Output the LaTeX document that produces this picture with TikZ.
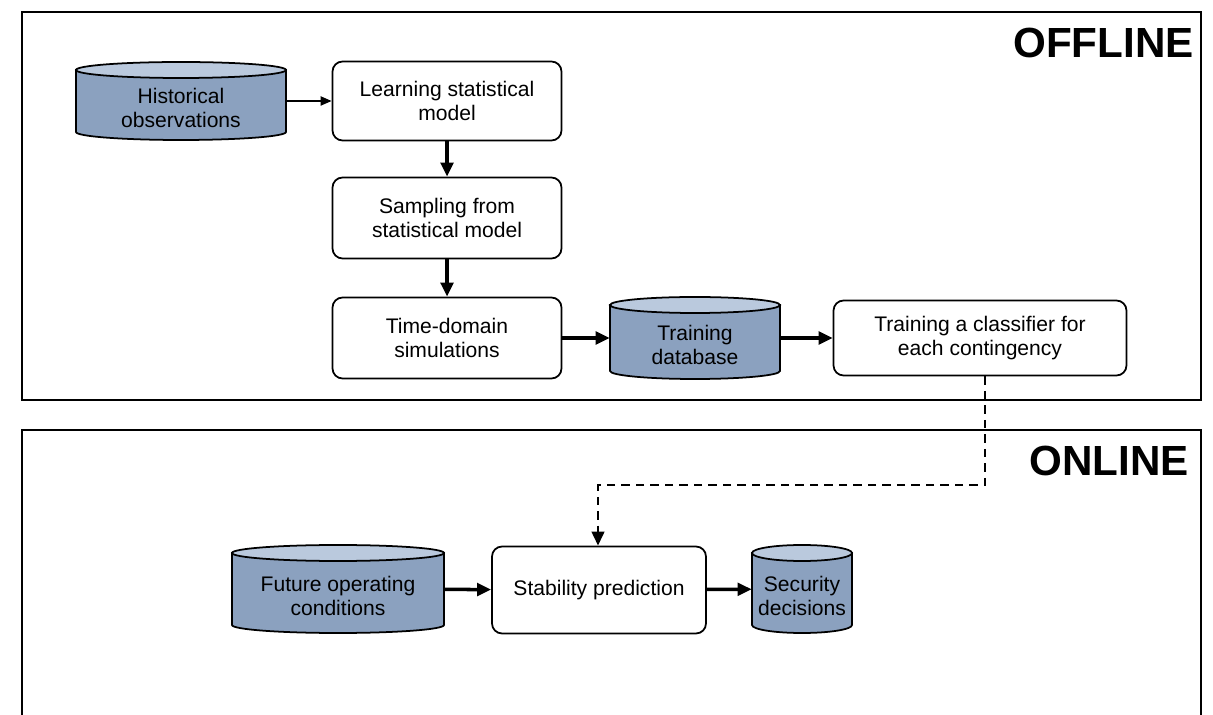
\documentclass[tikz,border=0pt]{standalone}
\usepackage{fontspec}
\setmainfont{Liberation Sans}
\usetikzlibrary{arrows.meta}
\definecolor{drumside}{RGB}{139,161,191}
\definecolor{drumtop}{RGB}{186,201,221}
\tikzset{box/.style={rectangle,rounded corners=0.2cm,draw,line width=1pt,align=center,font=\fontsize{12}{14}\selectfont}}
\tikzset{store/.style={rectangle,inner sep=0pt}}
\tikzset{storetext/.style={align=center,font=\fontsize{12}{14}\selectfont}}
\tikzset{flow/.style={-{Triangle[length=0.28cm,width=0.25cm]},line width=2pt}}
\tikzset{thinflow/.style={-{Triangle[length=0.22cm,width=0.18cm]},line width=1.1pt}}
\tikzset{link/.style={-{Triangle[length=0.28cm,width=0.25cm]},line width=1.5pt,dash pattern=on 0.17cm off 0.12cm}}
\tikzset{frame/.style={line width=1.5pt}}
\tikzset{phase/.style={font=\fontsize{24}{28}\selectfont\bfseries,inner sep=0pt,anchor=east}}
% drum: name, centre, half width, half height, text
\newcommand{\drum}[5]{%
  \begin{scope}[shift={#2}]
    \filldraw[line width=1pt,fill=drumside] (-#3,#4-8) -- (-#3,-#4+8)
      arc[start angle=180,end angle=360,x radius=#3,y radius=8] -- (#3,#4-8) -- cycle;
    \filldraw[line width=1pt,fill=drumtop] (0,#4-8) ellipse[x radius=#3,y radius=8];
    \node[store,minimum width=#3*0.04cm,minimum height=#4*0.04cm,
      label={[storetext,yshift=-0.14cm]center:{#5}}] (#1) at (0,0) {};
  \end{scope}}

\begin{document}
\begin{tikzpicture}[x=0.02cm,y=0.02cm]
\useasboundingbox (0,0) rectangle (1213,-715);
\draw [frame] (22,-12) rectangle (1201,-400);
\draw [frame] (22,-715) |- (1201,-430) -- (1201,-715);
\node [phase] (off) at (1194,-43) {OFFLINE};
\node [phase] (on) at (1189,-461) {ONLINE};

\drum{hist}{(181,-101)}{105}{39}{Historical\\observations}
\node [box,minimum width=4.58cm,minimum height=1.58cm] (learn) at (447,-101) {Learning statistical\\model};
\node [box,minimum width=4.58cm,minimum height=1.62cm] (sample) at (447,-218) {Sampling from\\statistical model};
\node [box,minimum width=4.58cm,minimum height=1.62cm] (time) at (447,-338) {Time-domain\\simulations};
\drum{trdb}{(695,-338)}{85}{41}{Training\\database}
\node [box,minimum width=5.86cm,minimum height=1.5cm] (cls) at (980,-338) {Training a classifier for\\each contingency};

\drum{future}{(338,-589)}{106}{44}{Future operating\\conditions}
\node [box,minimum width=4.28cm,minimum height=1.74cm] (stab) at (599,-590) {Stability prediction};
\drum{secur}{(802,-589)}{50}{44}{Security\\decisions}

\coordinate (drop) at (985,-485);
\coordinate (turn) at (598,-485);

\draw [thinflow] (hist) -- (learn);
\draw [flow] (learn) -- (sample);
\draw [flow] (sample) -- (time);
\draw [flow] (time) -- (trdb);
\draw [flow] (trdb) -- (cls);
\draw [link] (cls.south -| drop) -- (drop) -- (turn) -- (stab.north -| turn);
\draw [flow] (future) -- (stab);
\draw [flow] (stab) -- (secur);
\end{tikzpicture}
\end{document}
